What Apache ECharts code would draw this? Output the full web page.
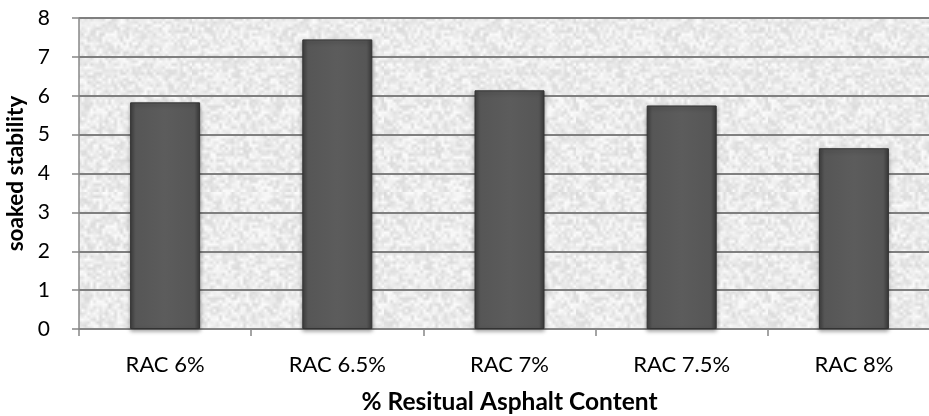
<!DOCTYPE html>
<html>
<head>
<meta charset="utf-8">
<script src="https://cdn.jsdelivr.net/npm/echarts@6/dist/echarts.min.js"></script>
<style>
  html, body { margin: 0; padding: 0; background: #ffffff; overflow: hidden; }
  #chart { width: 929px; height: 416px; }
</style>
</head>
<body>
<div id="chart"></div>
<script>
// Soaked stability by residual asphalt content
const categories = ['RAC 6%', 'RAC 6.5%', 'RAC 7%', 'RAC 7.5%', 'RAC 8%'];
const soakedStability = [5.83, 7.45, 6.14, 5.75, 4.65];
const yTicks = [0, 1, 2, 3, 4, 5, 6, 7, 8];

// Light granite-style fill for the plot area, built from a hashed value grid
function granitePattern() {
  const n = 64;
  const small = document.createElement('canvas');
  small.width = n; small.height = n;
  const sctx = small.getContext('2d');
  const img = sctx.createImageData(n, n);
  for (let y = 0; y < n; y++) {
    for (let x = 0; x < n; x++) {
      let h = (x * 374761393 + y * 668265263) | 0;
      h = Math.imul(h ^ (h >>> 13), 1274126177);
      h = (h ^ (h >>> 16)) >>> 0;
      const t = (h % 1000) / 1000;
      const v = Math.round(218 + t * 34);
      const i = (y * n + x) * 4;
      img.data[i] = v; img.data[i + 1] = v; img.data[i + 2] = v; img.data[i + 3] = 255;
    }
  }
  sctx.putImageData(img, 0, 0);
  const size = 192;
  const big = document.createElement('canvas');
  big.width = size; big.height = size;
  const bctx = big.getContext('2d');
  bctx.imageSmoothingEnabled = true;
  bctx.drawImage(small, 0, 0, size, size);
  return { image: big, repeat: 'repeat' };
}

const chart = echarts.init(document.getElementById('chart'), null, { renderer: 'canvas' });
const font = 'Lato, "Open Sans", sans-serif';

chart.setOption({
  animation: false,
  backgroundColor: '#ffffff',
  grid: {
    left: 79, top: 18, width: 861, height: 311,
    outerBoundsMode: 'none',
    containLabel: false,
    show: true,
    backgroundColor: granitePattern(),
    borderWidth: 0
  },
  xAxis: {
    type: 'category',
    data: categories,
    boundaryGap: true,
    name: '% Resitual Asphalt Content',
    nameLocation: 'middle',
    nameGap: 61,
    nameTextStyle: { fontFamily: font, fontSize: 24.5, fontWeight: 'bold', color: '#000' },
    axisLine: { show: true, lineStyle: { color: '#878787', width: 1.5 } },
    axisTick: { show: true, length: 7, lineStyle: { color: '#878787', width: 1.5 } },
    axisLabel: { fontFamily: font, fontSize: 22, color: '#000', margin: 25 },
    splitLine: { show: false }
  },
  yAxis: {
    type: 'value',
    min: yTicks[0],
    max: yTicks[yTicks.length - 1],
    interval: 1,
    name: 'soaked stability',
    nameLocation: 'middle',
    nameRotate: 90,
    nameGap: 49,
    nameTextStyle: { fontFamily: font, fontSize: 22.5, fontWeight: 'bold', color: '#000' },
    axisLine: { show: true, lineStyle: { color: '#878787', width: 1.5 } },
    axisTick: { show: true, length: 7, lineStyle: { color: '#878787', width: 1.5 } },
    axisLabel: { fontFamily: font, fontSize: 21, color: '#000', margin: 29 },
    splitLine: { show: true, lineStyle: { color: '#7f7f7f', width: 2 } }
  },
  series: [{
    type: 'bar',
    data: soakedStability,
    barWidth: 70,
    itemStyle: {
      color: new echarts.graphic.LinearGradient(0, 0, 1, 0, [
        { offset: 0, color: '#3f3f3f' },
        { offset: 0.08, color: '#565656' },
        { offset: 0.5, color: '#5c5c5c' },
        { offset: 0.92, color: '#565656' },
        { offset: 1, color: '#3a3a3a' }
      ]),
      borderColor: '#333333',
      borderWidth: 1,
      shadowColor: 'rgba(0,0,0,0.35)',
      shadowBlur: 4,
      shadowOffsetY: 2
    }
  }]
});
</script>
</body>
</html>
